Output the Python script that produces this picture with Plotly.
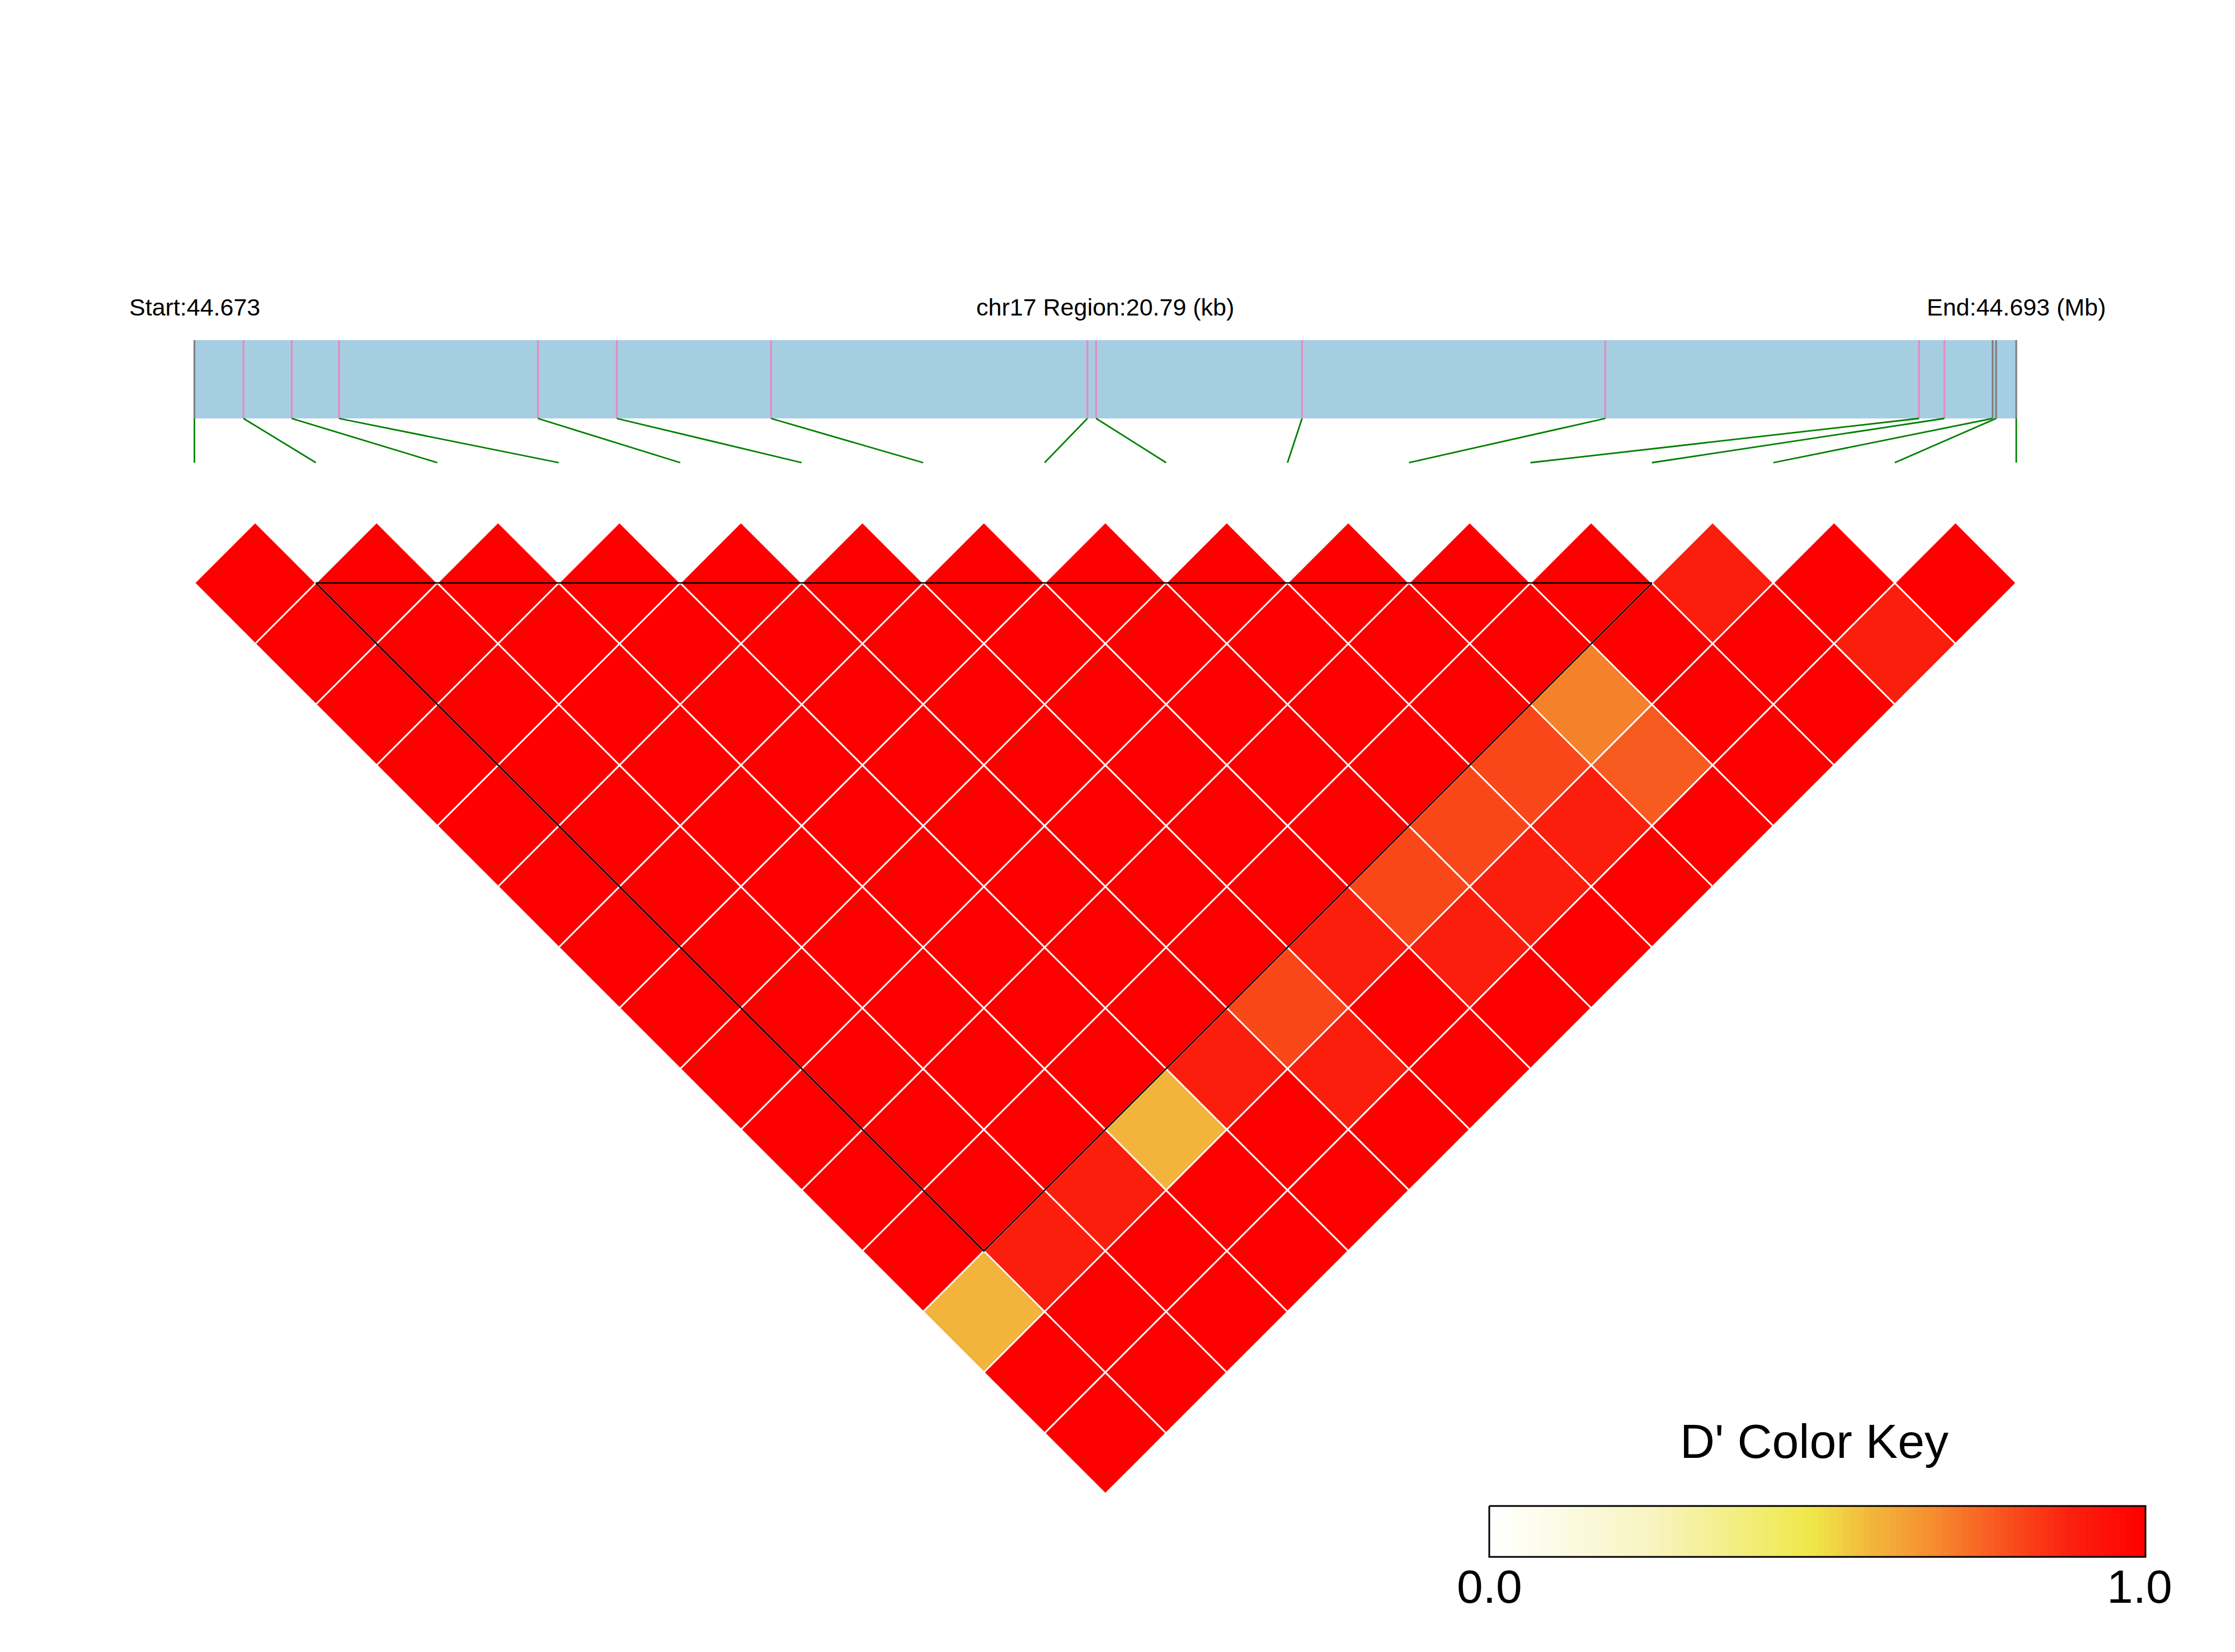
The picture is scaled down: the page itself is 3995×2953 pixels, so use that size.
import plotly.graph_objects as go
from plotly.colors import sample_colorscale

# ---------------- data ----------------
chromosome = "chr17"
start_mb = 44.673
end_mb = 44.693
region_kb = 20.79
# SNP positions (kb from region start)
snp_pos_kb = [0.00, 0.56, 1.11, 1.65, 3.92, 4.82, 6.58, 10.19,
              10.29, 12.64, 16.10, 19.68, 19.97, 20.52, 20.56, 20.79]
# LD block (first and last SNP index)
block_first = 1
block_last = 12
# pairwise D' : dprime_rows[i][k] = D'(SNP i, SNP i+1+k)
dprime_rows = [
    [1.00, 1.00, 1.00, 1.00, 1.00, 1.00, 1.00, 1.00, 1.00, 1.00, 1.00, 1.00, 0.59, 1.00, 1.00],
    [1.00, 1.00, 1.00, 1.00, 1.00, 1.00, 1.00, 1.00, 1.00, 1.00, 1.00, 0.90, 1.00, 1.00],
    [1.00, 1.00, 1.00, 1.00, 1.00, 1.00, 1.00, 1.00, 1.00, 1.00, 0.90, 1.00, 1.00],
    [1.00, 1.00, 1.00, 1.00, 1.00, 1.00, 1.00, 1.00, 1.00, 0.59, 1.00, 1.00],
    [1.00, 1.00, 1.00, 1.00, 1.00, 1.00, 1.00, 1.00, 0.90, 1.00, 1.00],
    [1.00, 1.00, 1.00, 1.00, 1.00, 1.00, 1.00, 0.81, 0.90, 1.00],
    [1.00, 1.00, 1.00, 1.00, 1.00, 1.00, 0.90, 1.00, 1.00],
    [1.00, 1.00, 1.00, 1.00, 1.00, 0.81, 0.90, 1.00],
    [1.00, 1.00, 1.00, 1.00, 0.81, 0.90, 1.00],
    [1.00, 1.00, 1.00, 0.81, 0.90, 1.00],
    [1.00, 1.00, 0.70, 0.77, 1.00],
    [1.00, 1.00, 1.00, 1.00],
    [0.90, 1.00, 1.00],
    [1.00, 0.90],
    [1.00],
]
key_title = "D' Color Key"
key_tick_labels = ["0.0", "1.0"]
key_steps = 100

colorscale = [[0.00, "#FFFFFF"], [0.25, "#F7F4BE"], [0.49, "#EFE84A"],
              [0.58, "#F2B83C"], [0.68, "#F68C2E"], [0.78, "#F8561F"],
              [0.88, "#FB2410"], [1.00, "#FF0000"]]

# ---------------- layout geometry (pixels of the page) ----------------
W, H = 3995, 2953
UNIT = 217.1          # pixels per SNP spacing
X0 = 347.5            # pixel x of SNP 0
Y0 = 933.5            # pixel y of the top of the triangle


def py(p):
    return (p - Y0) / UNIT


def px(p):
    return (p - X0) / UNIT


n = len(snp_pos_kb)
BAR_TOP, BAR_BOT, LINK_END = py(608), py(748), py(827)
TEXT_Y = py(549)
KEY_X0, KEY_X1, KEY_Y0, KEY_Y1 = px(2662), px(3835), py(2692), py(2783)

fig = go.Figure()

# ---------------- genetic map ----------------
gx = [p / region_kb * (n - 1) for p in snp_pos_kb]
fig.add_trace(go.Scatter(x=[gx[0], gx[-1], gx[-1], gx[0], gx[0]],
                         y=[BAR_TOP, BAR_TOP, BAR_BOT, BAR_BOT, BAR_TOP],
                         mode="lines", fill="toself", fillcolor="#A6CEE3",
                         line=dict(width=0, color="#A6CEE3"), hoverinfo="skip"))
for in_block, col in [(False, "#808080"), (True, "#E78AC3")]:
    xs, ys = [], []
    for k, g in enumerate(gx):
        if (block_first <= k <= block_last) == in_block:
            xs += [g, g, None]
            ys += [BAR_TOP, BAR_BOT, None]
    fig.add_trace(go.Scatter(x=xs, y=ys, mode="lines",
                             line=dict(color=col, width=3.3), hoverinfo="skip"))
lx, ly = [], []
for k, g in enumerate(gx):
    lx += [g, k, None]
    ly += [BAR_BOT, LINK_END, None]
fig.add_trace(go.Scatter(x=lx, y=ly, mode="lines",
                         line=dict(color="#008000", width=2.8), hoverinfo="skip"))


# ---------------- LD heatmap (rotated) ----------------
def diamond(i, j):
    cx, cy = (i + j) / 2, (j - i) / 2
    return ([cx - 0.5, cx, cx + 0.5, cx, cx - 0.5],
            [cy, cy - 0.5, cy, cy + 0.5, cy])


groups = {}
for i, row in enumerate(dprime_rows):
    for k, v in enumerate(row):
        groups.setdefault(v, []).append((i, i + 1 + k))

for v, cells in groups.items():
    col = sample_colorscale(colorscale, [v])[0]
    xs, ys = [], []
    for (i, j) in cells:
        dx, dy = diamond(i, j)
        xs += dx + [None]
        ys += dy + [None]
    fig.add_trace(go.Scatter(x=xs, y=ys, mode="lines", fill="toself",
                             fillcolor=col, line=dict(width=0, color=col),
                             hoverinfo="skip"))

gxs, gys = [], []
for i, row in enumerate(dprime_rows):
    for k in range(len(row)):
        dx, dy = diamond(i, i + 1 + k)
        gxs += dx + [None]
        gys += dy + [None]
fig.add_trace(go.Scatter(x=gxs, y=gys, mode="lines",
                         line=dict(color="white", width=2.7), hoverinfo="skip"))

# LD block outline
b0, b1 = block_first, block_last
fig.add_trace(go.Scatter(x=[b0, b1, (b0 + b1) / 2, b0],
                         y=[0.5, 0.5, (b1 - b0) / 2 + 0.5, 0.5],
                         mode="lines", line=dict(color="black", width=2.6),
                         hoverinfo="skip"))

# ---------------- colour key ----------------
kx = [KEY_X0 + (KEY_X1 - KEY_X0) * s / key_steps for s in range(key_steps + 1)]
kz = [[s / (key_steps - 1) for s in range(key_steps)]]
fig.add_trace(go.Heatmap(x=kx, y=[KEY_Y0, KEY_Y1], z=kz, colorscale=colorscale,
                         zmin=0, zmax=1, showscale=False, hoverinfo="skip"))
fig.add_trace(go.Scatter(x=[KEY_X0, KEY_X1, KEY_X1, KEY_X0, KEY_X0],
                         y=[KEY_Y0, KEY_Y0, KEY_Y1, KEY_Y1, KEY_Y0],
                         mode="lines", line=dict(color="black", width=3),
                         hoverinfo="skip"))

FONT = "Liberation Sans, Arial, Helvetica, sans-serif"
ann = [
    dict(x=gx[0], y=TEXT_Y, text=f"Start:{start_mb:.3f}", size=43),
    dict(x=(gx[0] + gx[-1]) / 2, y=TEXT_Y,
         text=f"{chromosome} Region:{region_kb:.2f} (kb)", size=43),
    dict(x=gx[-1], y=TEXT_Y, text=f"End:{end_mb:.3f} (Mb)", size=43),
    dict(x=(KEY_X0 + KEY_X1) / 2 - 0.025, y=py(2576), text=key_title, size=86),
    dict(x=KEY_X0, y=py(2836), text=key_tick_labels[0], size=84),
    dict(x=KEY_X1 - 0.05, y=py(2836), text=key_tick_labels[1], size=84),
]
for a in ann:
    fig.add_annotation(x=a["x"], y=a["y"], text=a["text"], showarrow=False,
                       xanchor="center", yanchor="middle",
                       font=dict(family=FONT, size=a["size"], color="black"))

fig.update_layout(
    width=W, height=H, autosize=False,
    margin=dict(l=0, r=0, t=0, b=0, pad=0),
    paper_bgcolor="white", plot_bgcolor="white", showlegend=False,
    xaxis=dict(range=[px(0), px(W)], visible=False, fixedrange=True),
    yaxis=dict(range=[py(H), py(0)], visible=False, fixedrange=True),
)

fig.write_html("out.html",
               config={"displayModeBar": False, "staticPlot": True},
               post_script="document.body.style.margin='0';document.body.style.overflow='hidden';")
